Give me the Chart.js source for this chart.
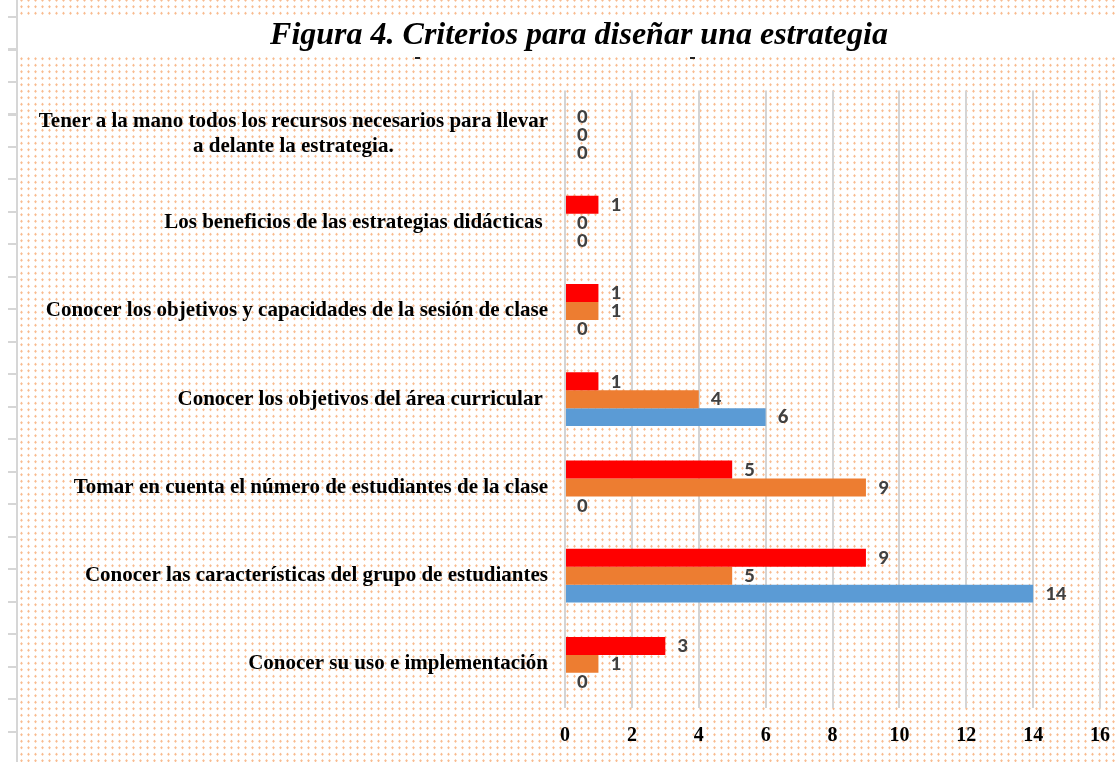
<!DOCTYPE html>
<html>
<head>
<meta charset="utf-8">
<script src="https://cdn.jsdelivr.net/npm/chart.js@4.4.1/dist/chart.umd.min.js"></script>
<style>
  html, body { margin: 0; padding: 0; }
  body { width: 1118px; height: 762px; position: relative; overflow: hidden; background: #fff; }
  #dots {
    position: absolute; left: 18px; top: 0; width: 1100px; height: 762px;
    background-image: radial-gradient(circle, rgba(245,150,80,0.65) 0.9px, transparent 1.4px);
    background-size: 7px 6.5px;
    background-position: 0 10px;
  }
  #band { position: absolute; left: 18px; top: 17px; width: 1100px; height: 40px; background: #fff; }
  .mark { position: absolute; top: 57px; width: 5px; height: 2px; background: #222; }
  #ruler { position: absolute; left: 16px; top: 0; width: 2px; height: 762px; background: #d6d6d6; }
  #rulerTicks {
    position: absolute; left: 8px; top: 16px; width: 9px; height: 746px;
    background-image: repeating-linear-gradient(to bottom, #d6d6d6 0, #d6d6d6 2px, transparent 2px, transparent 32.5px);
  }
  #chartBox { position: absolute; left: 0; top: 0; }
</style>
</head>
<body>
<div id="dots"></div>
<div id="band"></div>
<div class="mark" style="left:415px"></div>
<div class="mark" style="left:690px"></div>
<div id="ruler"></div>
<div id="rulerTicks"></div>
<div id="chartBox"><canvas id="criteriosChart" width="1118" height="762"></canvas></div>
<script>
// Categorías (de arriba hacia abajo)
const categories = [
    ["Tener a la mano todos los recursos necesarios para llevar", "a delante la estrategia."],
    "Los beneficios de las estrategias didácticas ",
    "Conocer los objetivos y capacidades de la sesión de clase",
    "Conocer los objetivos del área curricular ",
    "Tomar en cuenta el número de estudiantes de la clase",
    "Conocer las características del grupo de estudiantes",
    "Conocer su uso e implementación"
];

// Valores de cada serie
const redValues = [0, 1, 1, 1, 5, 9, 3];
const orangeValues = [0, 0, 1, 4, 9, 5, 1];
const blueValues = [0, 0, 0, 6, 0, 14, 0];

// Eje X
const xMin = 0;
const xMax = 16;
const xStep = 2;

const serifFont = "'Liberation Serif', 'Times New Roman', serif";
const labelFont = "Carlito, Lato, 'Open Sans', sans-serif";

// Etiquetas de valor al final de cada barra
const valueLabels = {
    id: "valueLabels",
    afterDatasetsDraw(chart) {
        const ctx = chart.ctx;
        ctx.save();
        ctx.font = "bold 21px " + labelFont;
        ctx.fillStyle = "#404040";
        ctx.textAlign = "left";
        ctx.textBaseline = "middle";
        chart.data.datasets.forEach((ds, i) => {
            chart.getDatasetMeta(i).data.forEach((bar, j) => {
                ctx.fillText(String(ds.data[j]), bar.x + 12, bar.y + 1);
            });
        });
        ctx.restore();
    }
};

// Etiquetas de categoría (la de dos líneas va centrada bajo sí misma)
const categoryLabels = {
    id: "categoryLabels",
    afterDraw(chart) {
        const ctx = chart.ctx;
        const yScale = chart.scales.y;
        const rightEdge = chart.chartArea.left - 17;
        const lineHeight = 25;
        ctx.save();
        ctx.font = "bold 21px " + serifFont;
        ctx.fillStyle = "#000";
        ctx.textBaseline = "middle";
        chart.data.labels.forEach((label, i) => {
            const y = yScale.getPixelForValue(i);
            if (Array.isArray(label)) {
                const w = Math.max(...label.map(l => ctx.measureText(l).width));
                const cx = rightEdge - w / 2;
                const y0 = y - (label.length - 1) * lineHeight / 2;
                ctx.textAlign = "center";
                label.forEach((l, k) => ctx.fillText(l, cx, y0 + k * lineHeight));
            } else {
                ctx.textAlign = "right";
                ctx.fillText(label, rightEdge, y);
            }
        });
        ctx.restore();
    }
};

new Chart(document.getElementById("criteriosChart"), {
    type: "bar",
    data: {
        labels: categories,
        datasets: [
            { label: "Serie 1", data: redValues, backgroundColor: "#FF0000" },
            { label: "Serie 2", data: orangeValues, backgroundColor: "#ED7D31" },
            { label: "Serie 3", data: blueValues, backgroundColor: "#5B9BD5" }
        ]
    },
    options: {
        indexAxis: "y",
        responsive: false,
        animation: false,
        datasets: { bar: { categoryPercentage: 0.61, barPercentage: 1.0 } },
        layout: { padding: { left: 58, right: 18, top: 0, bottom: 0 } },
        plugins: {
            legend: { display: false },
            tooltip: { enabled: false },
            title: {
                display: true,
                text: "Figura 4. Criterios para diseñar una estrategia",
                color: "#000",
                font: { family: serifFont, size: 32, weight: "bold", style: "italic" },
                padding: { top: 17, bottom: 35 }
            }
        },
        scales: {
            x: {
                min: xMin,
                max: xMax,
                ticks: {
                    stepSize: xStep,
                    color: "#000",
                    padding: 3,
                    font: { family: serifFont, size: 20, weight: "bold" }
                },
                grid: { color: "#D4D4D4", lineWidth: 2, drawTicks: true, tickLength: 13, tickColor: "rgba(0,0,0,0)" },
                border: { display: false },
                afterFit(scale) { scale.height = 54; }
            },
            y: {
                ticks: { display: false },
                grid: { display: false },
                border: { display: false },
                afterFit(scale) { scale.width = 507; }
            }
        }
    },
    plugins: [valueLabels, categoryLabels]
});
</script>
</body>
</html>
